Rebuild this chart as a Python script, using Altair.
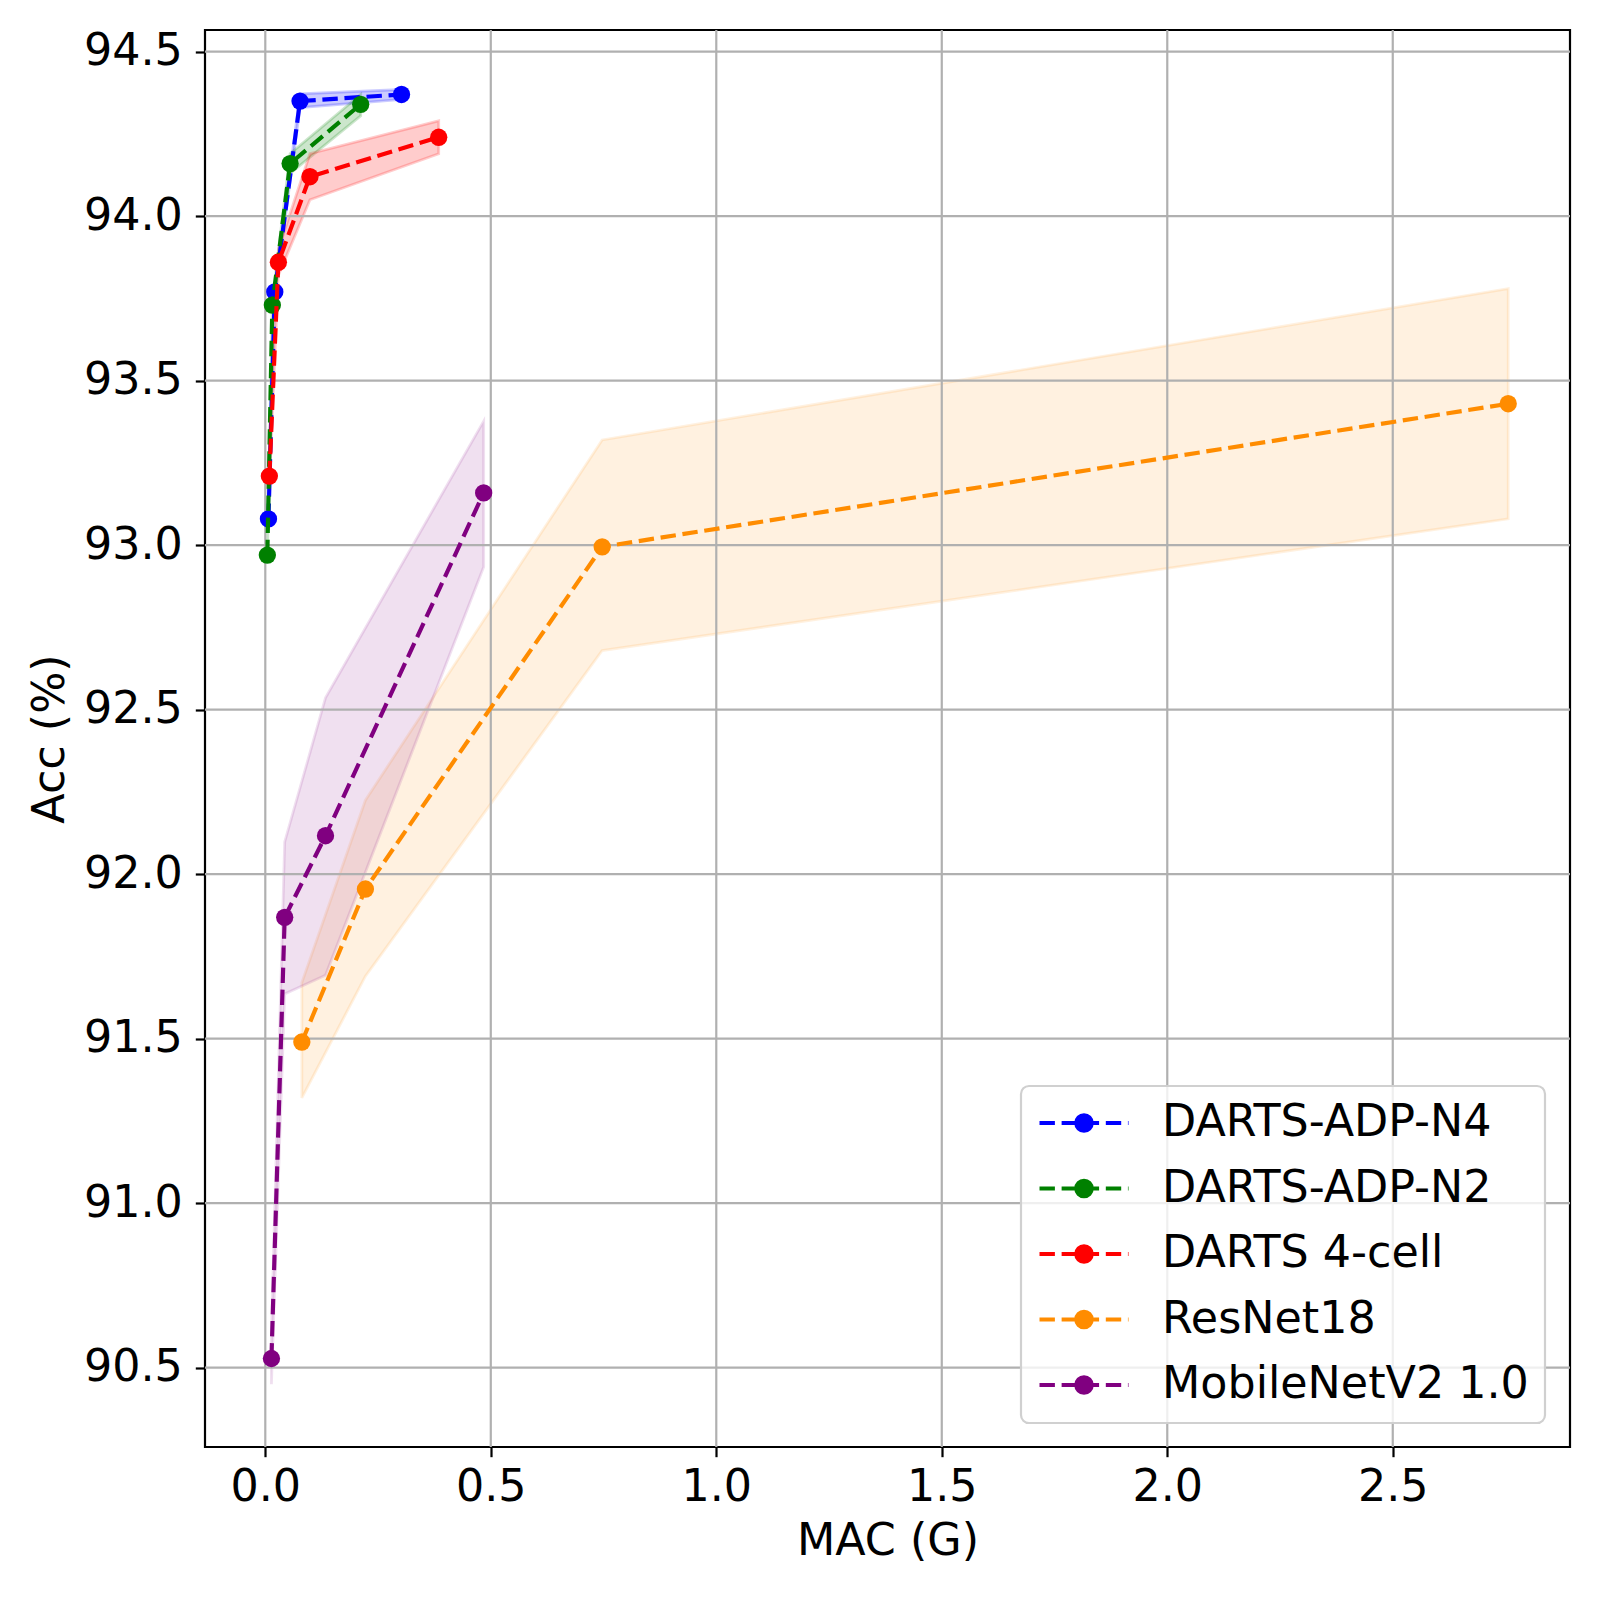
import altair as alt
import pandas as pd

models = ["DARTS-ADP-N4", "DARTS-ADP-N2", "DARTS 4-cell", "ResNet18", "MobileNetV2 1.0"]
colors = ["#0000ff", "#008000", "#ff0000", "#ff8c00", "#800080"]
band_alpha = [0.2, 0.2, 0.2, 0.12, 0.12]

# MAC (G)
mac_n4 = [0.007, 0.021, 0.077, 0.302]
mac_n2 = [0.0045, 0.0156, 0.055, 0.2115]
mac_d4 = [0.009, 0.029, 0.099, 0.3845]
mac_rn = [0.081, 0.222, 0.747, 2.756]
mac_mb = [0.0136, 0.043, 0.1335, 0.4842]

# Accuracy (%)
acc_n4 = [93.08, 93.77, 94.35, 94.37]
acc_n2 = [92.97, 93.73, 94.16, 94.34]
acc_d4 = [93.21, 93.86, 94.12, 94.24]
acc_rn = [91.49, 91.955, 92.995, 93.43]
acc_mb = [90.528, 91.869, 92.117, 93.159]

# band lower / upper
lo_n4 = [93.07, 93.76, 94.33, 94.355]
hi_n4 = [93.09, 93.78, 94.372, 94.385]
lo_n2 = [92.96, 93.72, 94.13, 94.305]
hi_n2 = [92.98, 93.74, 94.19, 94.37]
lo_d4 = [93.19, 93.82, 94.05, 94.19]
hi_d4 = [93.23, 93.90, 94.19, 94.29]
lo_rn = [91.32, 91.69, 92.68, 93.08]
hi_rn = [91.67, 92.225, 93.32, 93.78]
lo_mb = [90.45, 91.636, 91.693, 92.934]
hi_mb = [90.61, 92.098, 92.536, 93.377]

x_ticks = [0.0, 0.5, 1.0, 1.5, 2.0, 2.5]
y_ticks = [90.5, 91.0, 91.5, 92.0, 92.5, 93.0, 93.5, 94.0, 94.5]

series = [
    (mac_n4, acc_n4, lo_n4, hi_n4),
    (mac_n2, acc_n2, lo_n2, hi_n2),
    (mac_d4, acc_d4, lo_d4, hi_d4),
    (mac_rn, acc_rn, lo_rn, hi_rn),
    (mac_mb, acc_mb, lo_mb, hi_mb),
]

W, H = 1365, 1417
FONT = "DejaVu Sans"
FS = 44.4

xscale = alt.Scale(domain=[-0.1337, 2.893], nice=False, zero=False)
yscale = alt.Scale(domain=[90.259, 94.566], nice=False, zero=False)
xaxis = alt.Axis(values=x_ticks, format=".1f", title="MAC (G)", grid=False,
                 labelPadding=9, titleX=W / 2, titleY=107,
                 titleBaseline="alphabetic", titleAlign="center")
yaxis = alt.Axis(values=y_ticks, format=".1f", title="Acc (%)", grid=False,
                 labelPadding=13, titleX=-142, titleY=H / 2, titleAngle=-90,
                 titleBaseline="alphabetic", titleAlign="center")

def xenc(field):
    return alt.X(f"{field}:Q", scale=xscale, axis=xaxis)

def yenc(field):
    return alt.Y(f"{field}:Q", scale=yscale, axis=yaxis)

layers = []
# bands
for name, col, a, (xs, ys, lo, hi) in zip(models, colors, band_alpha, series):
    df = pd.DataFrame({"mac": xs, "lo": lo, "hi": hi})
    layers.append(
        alt.Chart(df).mark_area(color=col, fillOpacity=a, stroke=col,
                                strokeOpacity=a, strokeWidth=2.8)
        .encode(x=xenc("mac"), y=yenc("lo"), y2="hi:Q")
    )

# grid lines
gx = pd.DataFrame({"v": x_ticks})
gy = pd.DataFrame({"v": y_ticks})
layers.append(alt.Chart(gx).mark_rule(color="#b0b0b0", strokeWidth=2.2)
              .encode(x=xenc("v"), y=alt.value(0), y2=alt.value(H)))
layers.append(alt.Chart(gy).mark_rule(color="#b0b0b0", strokeWidth=2.2)
              .encode(y=yenc("v"), x=alt.value(0), x2=alt.value(W)))

color_scale = alt.Scale(domain=models, range=colors)
for name, (xs, ys, lo, hi) in zip(models, series):
    df = pd.DataFrame({"mac": xs, "acc": ys, "model": [name] * len(xs)})
    layers.append(
        alt.Chart(df).mark_line(strokeDash=[15.4, 6.7], strokeWidth=4.17,
                                point=alt.OverlayMarkDef(filled=True, size=300, opacity=1))
        .encode(x=xenc("mac"), y=yenc("acc"),
                color=alt.Color("model:N", scale=color_scale,
                                legend=alt.Legend(title=None)))
    )

dash = "M-1,0H-0.654M-0.503,0H-0.157M-0.007,0H0.339M0.49,0H0.836M0.987,0H1"
rings = "".join(f"M{-r},0A{r},{r} 0 1,0 {r},0A{r},{r} 0 1,0 {-r},0Z" for r in [0.045, 0.124, 0.173])
sym = dash + rings

chart = (
    alt.layer(*layers)
    .properties(width=W, height=H,
                autosize=alt.AutoSizeParams(type="none"),
                padding={"left": 197, "top": 22, "right": 22, "bottom": 140})
    .configure_view(stroke="black", strokeWidth=2.2)
    .configure_axis(domain=False, labelFont=FONT, labelFontSize=FS, labelColor="black",
                    titleFont=FONT, titleFontSize=FS, titleColor="black", titleFontWeight="normal",
                    tickColor="black", tickWidth=2.2, tickSize=9.7)
    .configure_legend(orient="none", legendX=816, legendY=1056,
                      labelFont=FONT, labelFontSize=FS, labelColor="black", labelLimit=800,
                      symbolType=sym, symbolSize=7921, symbolStrokeWidth=4.17,
                      symbolDash=[100, 0], symbolOpacity=1, clipHeight=42,
                      labelOffset=31, rowPadding=20.5, padding=16,
                      strokeColor="#d0d0d0", fillColor="rgba(255,255,255,0.8)",
                      cornerRadius=8, strokeWidth=2.2)
)

chart.save("out.html", embed_options={"renderer": "svg", "actions": False})
